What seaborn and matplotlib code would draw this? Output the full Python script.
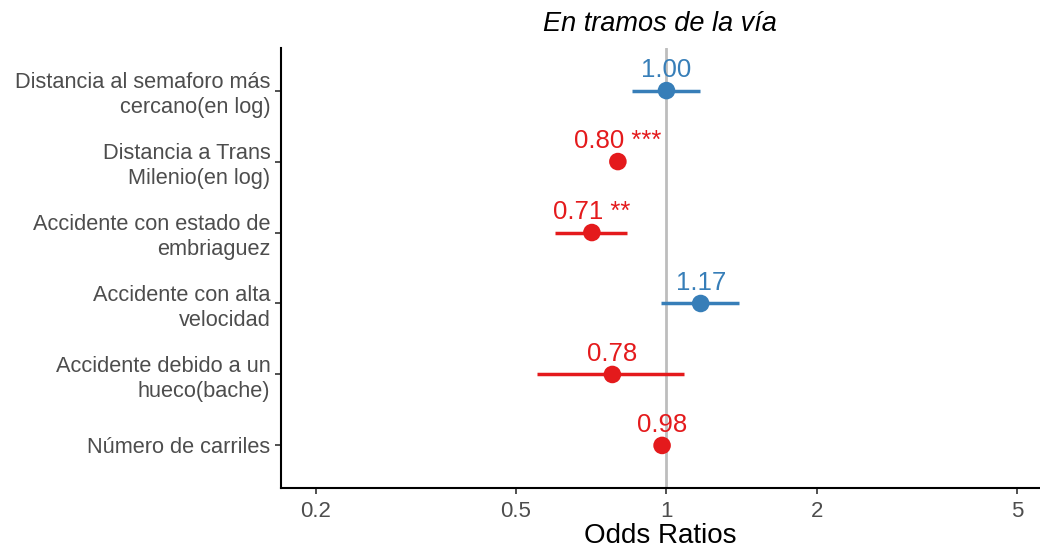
import numpy as np
import pandas as pd
import matplotlib
matplotlib.use("Agg")
import matplotlib.pyplot as plt
import seaborn as sns

# odds ratios por variable, en tramos de la via
terms = ["Distancia al semaforo más\ncercano(en log)",
         "Distancia a Trans\nMilenio(en log)",
         "Accidente con estado de\nembriaguez",
         "Accidente con alta\nvelocidad",
         "Accidente debido a un\nhueco(bache)",
         "Número de carriles"]
estimate = [1.00, 0.80, 0.71, 1.17, 0.78, 0.98]
conf_low = [0.855, 0.79, 0.60, 0.977, 0.551, 0.97]
conf_high = [1.169, 0.81, 0.836, 1.398, 1.086, 0.99]
stars = ["", "***", "**", "", "", ""]

df = pd.DataFrame({"term": terms, "estimate": estimate,
                   "low": conf_low, "high": conf_high, "stars": stars})
df["pos"] = np.arange(len(df))
df["dir"] = np.where(df["estimate"] >= 1, "pos", "neg")

red = "#E41A1C"
blue = "#377EB8"
palette = {"pos": blue, "neg": red}

sns.set_theme(style="ticks")
plt.rcParams["font.family"] = ["Liberation Sans", "DejaVu Sans"]

fig, ax = plt.subplots(figsize=(10.4, 5.5), dpi=100)
fig.subplots_adjust(left=0.270, right=0.999, top=0.9127, bottom=0.1127)

ax.axvline(1, color="#bdbdbd", lw=2, zorder=0)

for _, r in df.iterrows():
    ax.hlines(r["pos"], r["low"], r["high"], color=palette[r["dir"]], lw=2.5, zorder=2)

sns.scatterplot(data=df, x="estimate", y="pos", hue="dir", palette=palette,
                s=160, edgecolor="none", legend=False, ax=ax, zorder=3)

for _, r in df.iterrows():
    label = f"{r['estimate']:.2f}"
    if r["stars"]:
        label += " " + r["stars"]
    ax.annotate(label, (r["estimate"], r["pos"]), xytext=(0, 6),
                textcoords="offset points", ha="center", va="bottom",
                fontsize=18.5, color=palette[r["dir"]])

ax.set_xscale("log")
ax.set_xlim(0.1702, 5.53)
ax.set_xticks([0.2, 0.5, 1, 2, 5])
ax.set_xticklabels(["0.2", "0.5", "1", "2", "5"])
ax.minorticks_off()
ax.set_ylim(len(df) - 0.4, -0.6)
ax.set_yticks(df["pos"])
ax.set_yticklabels(df["term"], fontsize=15.7, linespacing=1.25)
ax.tick_params(axis="x", labelsize=16, length=4, width=1.2, pad=5)
ax.tick_params(axis="y", length=4, width=1.2)
for t in ax.get_xticklabels() + ax.get_yticklabels():
    t.set_color("#4d4d4d")
ax.tick_params(color="#333333")

sns.despine(ax=ax)
ax.spines["left"].set_linewidth(1.5)
ax.spines["bottom"].set_linewidth(1.5)
ax.spines["left"].set_color("black")
ax.spines["bottom"].set_color("black")

ax.set_ylabel("")
ax.set_xlabel("Odds Ratios", fontsize=20, color="black", labelpad=1)
ax.set_title("En tramos de la vía", fontsize=19.5, style="italic", pad=12,
             color="black")

fig.savefig("out.png", dpi=100)
